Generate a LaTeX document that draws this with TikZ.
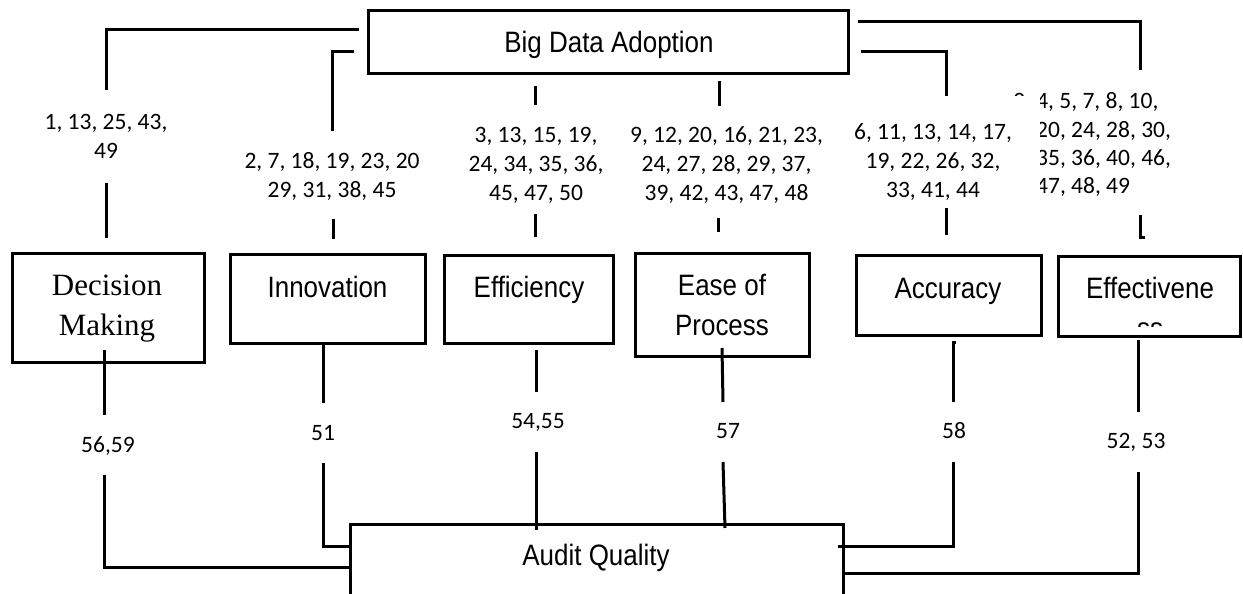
\documentclass[tikz,border=0pt]{standalone}
\usepackage{fontspec}
\setmainfont{Liberation Serif}
\newfontfamily\numf{Carlito}
\newfontfamily\arf[FakeStretch=0.88]{Liberation Sans}
\begin{document}
\begin{tikzpicture}[x=1pt,y=-1pt,
  box/.style={draw, line width=3pt, inner sep=0pt, outer sep=0pt},
  conn/.style={line width=3pt},
  num/.style={font=\numf\fontsize{23.5}{29}\selectfont, inner sep=0pt, align=center, anchor=base},
  numl/.style={font=\numf\fontsize{23.5}{29}\selectfont, inner sep=0pt, anchor=base west},
  ar/.style={font=\arf\fontsize{29.5}{40}\selectfont, inner sep=0pt, align=center, anchor=base},
  tr/.style={font=\fontsize{31}{40}\selectfont, inner sep=0pt, align=center, anchor=base}]
\useasboundingbox (0,0) rectangle (1243,594);

% boxes
\node[box, minimum width=480pt, minimum height=63pt] (bda) at (608,42.5) {};
\node[box, minimum width=192pt, minimum height=109pt] (dm) at (108,307.5) {};
\node[box, minimum width=195pt, minimum height=89pt] (inn) at (327.5,298.5) {};
\node[box, minimum width=169pt, minimum height=88pt] (eff) at (528.5,299) {};
\node[box, minimum width=174pt, minimum height=103pt] (ease) at (722,304.5) {};
\node[box, minimum width=185pt, minimum height=80pt] (acc) at (948.5,295) {};
\node[box, minimum width=182pt, minimum height=80pt] (effv) at (1149,296) {};
\node[box, minimum width=493pt, minimum height=71pt] (aq) at (596.5,559.5) {};

% box texts
\node[ar] (bdat) at (609,53) {Big Data Adoption};
\node[tr] (dmt) at (107,335) {Decision\\Making};
\node[ar] (innt) at (327.5,297) {Innovation};
\node[ar] (efft) at (529,297) {Efficiency};
\node[ar] (easet) at (722,335) {Ease of\\Process};
\node[ar] (acct) at (948,298) {Accuracy};
\begin{scope}
\clip (1058,250) rectangle (1241,326);
\node[ar] (effvt) at (1150,338) {Effectivene\\ss};
\end{scope}
\node[ar] (aqt) at (596,565) {Audit Quality};

% labels, top
\node[num] (l1) at (106,158) {1, 13, 25, 43,\\49};
\node[num] (l2) at (332,197) {2, 7, 18, 19, 23, 20\\29, 31, 38, 45};
\node[num] (l3) at (536,200) {3, 13, 15, 19,\\24, 34, 35, 36,\\45, 47, 50};
\node[num] (l4) at (726.5,200) {9, 12, 20, 16, 21, 23,\\24, 27, 28, 29, 37,\\39, 42, 43, 47, 48};
\node[numl] (l6a) at (1013,108) {3, 4, 5, 7, 8, 10,};
\node[numl] (l6b) at (1036,137) {20, 24, 28, 30,};
\node[numl] (l6c) at (1036,165) {35, 36, 40, 46,};
\node[numl] (l6d) at (1036,193) {47, 48, 49};
\fill[white] (850,96) rectangle (1040,205);
\node[num] (l5) at (933,197) {6, 11, 13, 14, 17,\\19, 22, 26, 32,\\33, 41, 44};

% labels, bottom
\node[num] (m1) at (108,452) {56,59};
\node[num] (m2) at (323,440) {51};
\node[num] (m3) at (538,428) {54,55};
\node[num] (m4) at (728,438) {57};
\node[num] (m5) at (954,438) {58};
\node[num] (m6) at (1136,448) {52, 53};

% connectors, top
\draw[conn] (359,29.3) -- (106.7,29.3) -- (106.7,90);
\draw[conn] (106,183) -- (106,238);
\draw[conn] (354,52) -- (332,52) -- (332,131);
\draw[conn] (333,219) -- (333,239);
\draw[conn] (535,86) -- (535,105);
\draw[conn] (535,214) -- (535,237);
\draw[conn] (719,81) -- (719,106);
\draw[conn] (718,218) -- (718,232);
\draw[conn] (861,52) -- (946,52) -- (946,96);
\draw[conn] (946,208) -- (946,235);
\draw[conn] (858,22) -- (1140,22) -- (1140,70);
\draw[conn] (1140,215) -- (1140,237) -- (1145,237);

% connectors, bottom
\draw[conn] (104,350) -- (104,415);
\draw[conn] (104,475) -- (104,567) -- (aq.west |- 0,567);
\draw[conn] (323,345) -- (323,403);
\draw[conn] (323,463) -- (323,546) -- (aq.west |- 0,546);
\draw[conn] (536,350) -- (536,392);
\draw[conn] (536,452) -- (536,530);
\draw[conn] (722,348) -- (723,402);
\draw[conn] (723,462) -- (725,528);
\draw[conn] (956,342) -- (953,342) -- (953,402);
\draw[conn] (953,462) -- (953,546) -- (838,546);
\draw[conn] (1138,340) -- (1138,412);
\draw[conn] (1138,472) -- (1138,573) -- (845,573);
\end{tikzpicture}
\end{document}
